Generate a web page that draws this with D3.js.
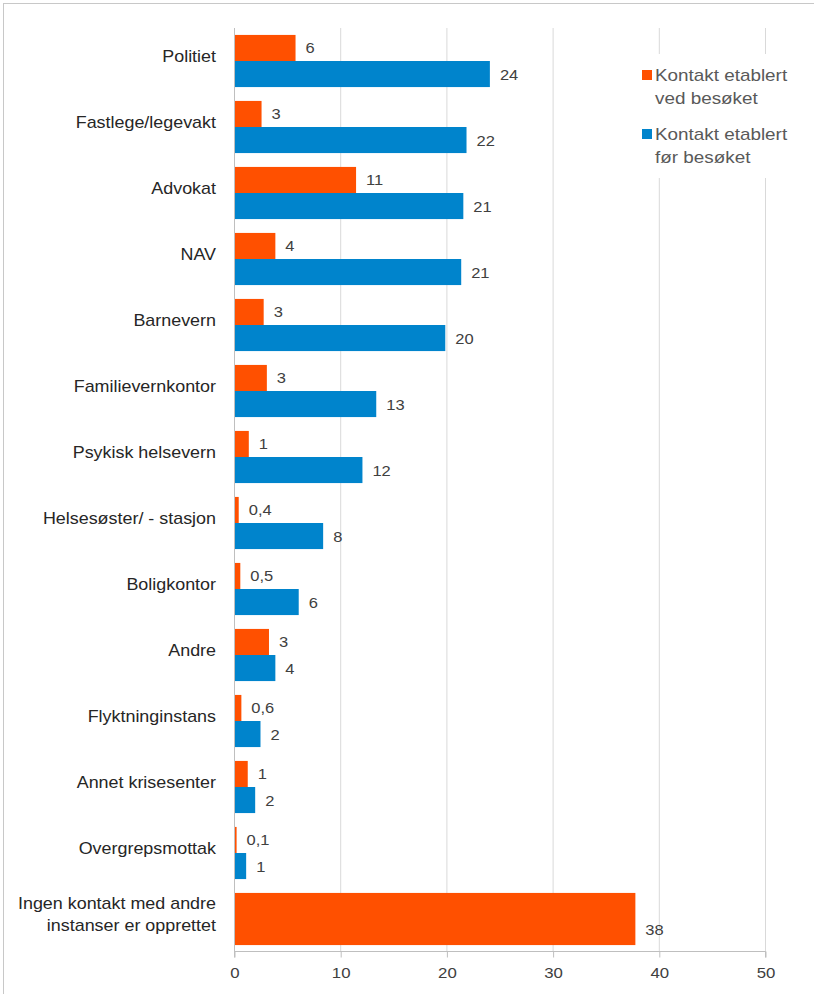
<!DOCTYPE html>
<html>
<head>
<meta charset="utf-8">
<title>Kontakt med andre instanser</title>
<style>
  body { margin: 0; background: #fff; }
  text { font-family: "Liberation Sans", Arial, sans-serif; }
</style>
</head>
<body>
<script src="https://cdn.jsdelivr.net/npm/d3@7"></script>
<script>
// categories, top to bottom
var categories = ["Politiet", "Fastlege/legevakt", "Advokat", "NAV", "Barnevern",
  "Familievernkontor", "Psykisk helsevern", "Helsesøster/ - stasjon", "Boligkontor",
  "Andre", "Flyktninginstans", "Annet krisesenter", "Overgrepsmottak",
  "Ingen kontakt med andre\ninstanser er opprettet"];

// "Kontakt etablert ved besøket"
var vedBesoket = [5.7, 2.5, 11.4, 3.8, 2.7, 3.0, 1.3, 0.35, 0.5, 3.2, 0.6, 1.2, 0.15, 37.7];
var vedLabels = ["6", "3", "11", "4", "3", "3", "1", "0,4", "0,5", "3", "0,6", "1", "0,1", "38"];

// "Kontakt etablert før besøket"
var forBesoket = [24.0, 21.8, 21.5, 21.3, 19.8, 13.3, 12.0, 8.3, 6.0, 3.8, 2.4, 1.9, 1.05, null];
var forLabels = ["24", "22", "21", "21", "20", "13", "12", "8", "6", "4", "2", "2", "1", ""];

var xTicks = [0, 10, 20, 30, 40, 50];
var seriesNames = ["Kontakt etablert\nved besøket", "Kontakt etablert\nfør besøket"];
var colors = ["#ff5000", "#0084cc"];

var width = 814, height = 994;

var svg = d3.select("body").append("svg")
  .attr("width", width)
  .attr("height", height);

// chart frame (only top/left visible in the crop)
svg.append("rect")
  .attr("x", 3.5).attr("y", 3.5)
  .attr("width", width + 10).attr("height", height + 10)
  .attr("fill", "none")
  .attr("stroke", "#c8c8c8");

var x = d3.scaleLinear().domain([0, 50]).range([234, 765]);

var y = d3.scaleBand()
  .domain(categories)
  .range([28, 952])
  .paddingInner(0.21)
  .paddingOuter(0.105);

// stretched text helper (the original font is wide and soft)
function stext(g, px, py, sx, size, anchor, fill) {
  return g.append("text")
    .attr("transform", "translate(" + px + "," + py + ") scale(" + sx + ",1)")
    .attr("text-anchor", anchor)
    .attr("fill", fill)
    .style("font-size", size + "px");
}

// gridlines
svg.append("g").selectAll("line")
  .data(xTicks.slice(1))
  .enter().append("line")
  .attr("x1", function (d) { return x(d) + 0.5; })
  .attr("x2", function (d) { return x(d) + 0.5; })
  .attr("y1", 28)
  .attr("y2", 952)
  .attr("stroke", "#d9d9d9");

// x axis
var xAxis = d3.axisBottom(x).tickValues(xTicks).tickSize(6).tickFormat("");
var gx = svg.append("g")
  .attr("transform", "translate(0.5," + 951.5 + ")")
  .call(xAxis);
gx.select(".domain").attr("stroke", "#bfbfbf").attr("d", "M" + x(0) + ",6V0H" + x(50) + "V6");
gx.selectAll(".tick line").attr("stroke", "#bfbfbf");

var tickG = svg.append("g");
xTicks.forEach(function (t) {
  stext(tickG, x(t) + 1, 978, 1.12, 15, "middle", "#404040").text(t);
});

// vertical axis line at 0
svg.append("line")
  .attr("x1", x(0) + 0.5).attr("x2", x(0) + 0.5)
  .attr("y1", 28).attr("y2", 952)
  .attr("stroke", "#bfbfbf");

var rows = categories.map(function (c, i) {
  return { cat: c, ved: vedBesoket[i], vedL: vedLabels[i], fr: forBesoket[i], frL: forLabels[i] };
});

var half = y.bandwidth() / 2;

// orange bars
svg.append("g").selectAll("rect")
  .data(rows)
  .enter().append("rect")
  .attr("x", x(0) + 1)
  .attr("y", function (d) { return y(d.cat); })
  .attr("width", function (d) { return x(d.ved) - x(0); })
  .attr("height", function (d) { return d.fr == null ? y.bandwidth() : half; })
  .attr("fill", colors[0]);

// blue bars
svg.append("g").selectAll("rect")
  .data(rows.filter(function (d) { return d.fr != null; }))
  .enter().append("rect")
  .attr("x", x(0) + 1)
  .attr("y", function (d) { return y(d.cat) + half; })
  .attr("width", function (d) { return x(d.fr) - x(0); })
  .attr("height", half)
  .attr("fill", colors[1]);

// value labels
var valG = svg.append("g");
rows.forEach(function (d) {
  var ly = d.fr == null ? y(d.cat) + y.bandwidth() / 2 + 11 : y(d.cat) + half / 2;
  stext(valG, x(d.ved) + 11, ly + 5, 1.1, 15, "start", "#404040").text(d.vedL);
  if (d.fr != null) {
    stext(valG, x(d.fr) + 11, y(d.cat) + half * 1.5 + 6, 1.1, 15, "start", "#404040").text(d.frL);
  }
});

// category labels
var catG = svg.append("g");
categories.forEach(function (c) {
  var lines = c.split("\n");
  var cy = y(c) + half - 4;
  lines.forEach(function (l, i) {
    var ly = cy + 5 + (i - (lines.length - 1) / 2) * 22;
    stext(catG, 216, ly, 1.12, 16, "end", "#262626").text(l);
  });
});

// legend (white box covers gridlines)
var leg = svg.append("g");
leg.append("rect")
  .attr("x", 632).attr("y", 54)
  .attr("width", 170).attr("height", 124)
  .attr("fill", "#fff");

seriesNames.forEach(function (name, i) {
  var ly = 75 + i * 59;
  leg.append("rect")
    .attr("x", 642).attr("y", ly - 5)
    .attr("width", 10).attr("height", 10)
    .attr("fill", colors[i]);
  name.split("\n").forEach(function (l, j) {
    stext(leg, 655, ly + 6 + j * 23, 1.18, 16, "start", "#595959").text(l);
  });
});
</script>
</body>
</html>
